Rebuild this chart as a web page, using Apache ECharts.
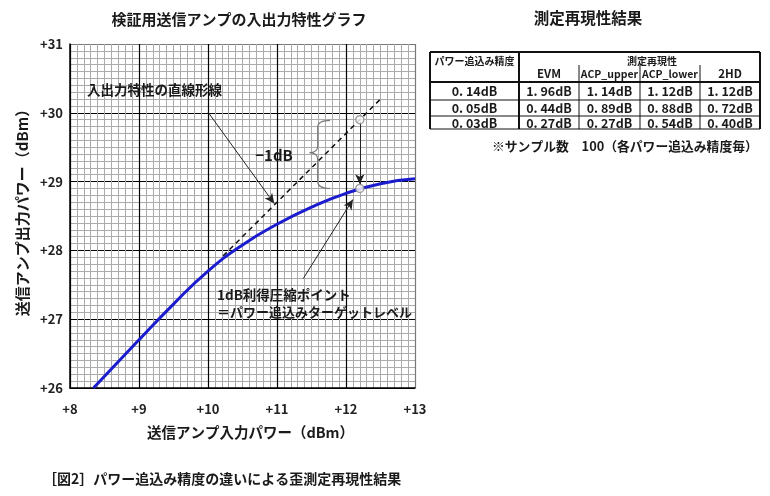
<!DOCTYPE html>
<html>
<head>
<meta charset="utf-8">
<script src="https://cdn.jsdelivr.net/npm/echarts@6/dist/echarts.min.js"></script>
<style>
html,body{margin:0;padding:0;background:#fff;}
#main{width:770px;height:496px;}
</style>
</head>
<body>
<div id="main"></div>
<script>
// ---- chart data ----
const inputPower  = [8.34, 9.0, 9.5, 10.0, 10.5, 11.0, 11.5, 12.0, 12.5, 13.0];
const outputPower = [26.0, 26.7, 27.22, 27.7, 28.08, 28.38, 28.63, 28.83, 28.97, 29.04];
const linearX = [10.22, 12.52];
const linearY = [27.92, 30.22];
const pointX = [12.2, 12.2];
const pointY = [29.9, 28.9];
const xTicks = [8, 9, 10, 11, 12, 13];
const yTicks = [26, 27, 28, 29, 30, 31];
// annotation arrows (data coordinates): [fromX, fromY, toX, toY]
const arrowLinear = [10.0, 30.01, 10.96, 28.68];
const arrowPoint  = [11.38, 27.59, 12.10, 28.74];
const arrowDrop   = [12.2, 29.86, 12.2, 28.96];
// brace (data coordinates): [endX, spineX, tipX], [topY, midY, bottomY]
const braceX = [11.77, 11.59, 11.47];
const braceY = [29.89, 29.42, 28.9];

// ---- table data ----
const tableRowLabels = ['0. 14dB', '0. 05dB', '0. 03dB'];
const tableColumns = ['EVM', 'ACP_upper', 'ACP_lower', '2HD'];
const valEVM      = ['1. 96dB', '0. 44dB', '0. 27dB'];
const valACPupper = ['1. 14dB', '0. 89dB', '0. 27dB'];
const valACPlower = ['1. 12dB', '0. 88dB', '0. 54dB'];
const val2HD      = ['1. 12dB', '0. 72dB', '0. 40dB'];

const FONT = '"Noto Sans CJK JP", "Noto Sans", sans-serif';
const chart = echarts.init(document.getElementById('main'), null, {renderer: 'canvas'});

function txt(text, x, y, size, align, extra) {
  return Object.assign({
    type: 'text', x: x, y: y, z: 100,
    style: {text: text, font: 'bold ' + size + 'px ' + FONT, fill: '#1a1a1a',
            align: align || 'left', verticalAlign: 'middle'}
  }, extra || {});
}
function ln(x1, y1, x2, y2, w, c) {
  return {type: 'line', z: 100, shape: {x1: x1, y1: y1, x2: x2, y2: y2},
          style: {stroke: c || '#111', lineWidth: w}};
}

// table layout
const colX = [430, 519, 579, 640, 700, 760];
const rowTop = 52, subTop = 65, headBottom = 82;
const rowLines = [100, 116, 129];
const rowCenters = [91, 108, 123];
const columnsValues = [valEVM, valACPupper, valACPlower, val2HD];

const graphics = [];
graphics.push(txt('検証用送信アンプの入出力特性グラフ', 239, 19, 15, 'center'));
graphics.push(txt('測定再現性結果', 588, 18, 15.5, 'center'));
graphics.push(txt('入出力特性の直線形線', 87, 90, 13.5, 'left'));
graphics.push(txt('−1dB', 274, 155, 15, 'center'));
graphics.push(txt('1dB利得圧縮ポイント', 217, 295, 13.5, 'left'));
graphics.push(txt('＝パワー追込みターゲットレベル', 217, 312, 13, 'left'));
graphics.push(txt('※サンプル数　100（各パワー追込み精度毎）', 492, 146, 12.8, 'left'));
graphics.push(txt('［図2］パワー追込み精度の違いによる歪測定再現性結果', 43, 479, 14, 'left'));

// table frame
graphics.push(ln(colX[0], rowTop, colX[5], rowTop, 2));
graphics.push(ln(colX[0], rowTop, colX[0], rowLines[2], 2));
graphics.push(ln(colX[5], rowTop, colX[5], rowLines[2], 2));
graphics.push(ln(colX[1], rowTop, colX[1], rowLines[2], 2));
for (let i = 2; i < 5; i++) graphics.push(ln(colX[i], subTop, colX[i], rowLines[2], 1));
graphics.push(ln(colX[0], headBottom, colX[5], headBottom, 2));
rowLines.forEach(function (y) { graphics.push(ln(colX[0], y, colX[5], y, 1)); });
graphics.push(txt('パワー追込み精度', (colX[0] + colX[1]) / 2, 61, 10, 'center'));
graphics.push(txt('測定再現性', 652, 61, 10, 'center'));
tableColumns.forEach(function (c, i) {
  graphics.push(txt(c, (colX[i + 1] + colX[i + 2]) / 2, 74, c.length > 3 ? 10.5 : 11.5, 'center'));
});
tableRowLabels.forEach(function (r, j) {
  graphics.push(txt(r, (colX[0] + colX[1]) / 2, rowCenters[j], 12.5, 'center', {}));
  columnsValues.forEach(function (vals, i) {
    graphics.push(txt(vals[j], (colX[i + 1] + colX[i + 2]) / 2, rowCenters[j], 12.5, 'center'));
  });
});

function arrowMark(a) {
  return [{coord: [a[0], a[1]], symbol: 'none'}, {coord: [a[2], a[3]], symbol: 'arrow'}];
}

const option = {
  backgroundColor: '#fff',
  animation: false,
  textStyle: {fontFamily: FONT},
  grid: {left: 70, right: 355, top: 44, bottom: 108, containLabel: false},
  xAxis: {
    type: 'value', min: xTicks[0], max: xTicks[xTicks.length - 1], interval: 1,
    name: '送信アンプ入力パワー（dBm）', nameLocation: 'middle', nameGap: 37,
    nameTextStyle: {fontSize: 14.5, fontWeight: 'bold', color: '#1a1a1a', fontFamily: FONT,
      padding: [0, 0, 0, 16]},
    axisLine: {show: true, onZero: false, lineStyle: {color: '#000', width: 1.5}},
    axisTick: {show: false},
    minorTick: {show: false, splitNumber: 10},
    minorSplitLine: {show: true, lineStyle: {color: '#ababab', width: 1}},
    splitLine: {show: true, showMinLine: true, showMaxLine: true,
      lineStyle: {color: ['#000', '#000', '#000', '#000', '#000', '#777'], width: 1.2}},
    axisLabel: {formatter: function (v) { return '+' + v; }, fontSize: 13, fontWeight: 'bold',
      color: '#222', margin: 15, fontFamily: FONT}
  },
  yAxis: {
    type: 'value', min: yTicks[0], max: yTicks[yTicks.length - 1], interval: 1,
    name: '送信アンプ出力パワー（dBm）', nameLocation: 'middle', nameGap: 40,
    nameTextStyle: {fontSize: 15, fontWeight: 'bold', color: '#1a1a1a', fontFamily: FONT,
      padding: [0, 0, 0, 14]},
    axisLine: {show: true, onZero: false, lineStyle: {color: '#000', width: 1.5}},
    axisTick: {show: false},
    minorTick: {show: false, splitNumber: 10},
    minorSplitLine: {show: true, lineStyle: {color: '#ababab', width: 1}},
    splitLine: {show: true, showMinLine: true, showMaxLine: true,
      lineStyle: {color: ['#000', '#000', '#000', '#000', '#000', '#777'], width: 1.2}},
    axisLabel: {formatter: function (v) { return '+' + v; }, fontSize: 13, fontWeight: 'bold',
      color: '#222', margin: 7, fontFamily: FONT}
  },
  series: [
    {
      type: 'line', name: 'linear', data: linearX.map(function (x, i) { return [x, linearY[i]]; }),
      showSymbol: false, lineStyle: {color: '#111', width: 1.5, type: [5, 4]}, z: 3,
      markLine: {
        silent: true, symbolSize: [7, 10],
        lineStyle: {color: '#222', width: 1, type: 'solid'},
        label: {show: false},
        data: [arrowMark(arrowLinear), arrowMark(arrowPoint), arrowMark(arrowDrop)]
      }
    },
    {
      type: 'line', name: 'amp', data: inputPower.map(function (x, i) { return [x, outputPower[i]]; }),
      smooth: 0.5, showSymbol: false, lineStyle: {color: '#1c1ccf', width: 3}, z: 4
    },
    {
      type: 'custom', name: 'brace', data: [[braceX[1], braceY[1]]], z: 3,
      renderItem: function (params, api) {
        const top = api.coord([braceX[1], braceY[0]]);
        const bot = api.coord([braceX[1], braceY[2]]);
        const mid = api.coord([braceX[1], braceY[1]]);
        const endX = api.coord([braceX[0], braceY[0]])[0];
        const tipX = api.coord([braceX[2], braceY[1]])[0];
        const sx = top[0], r = 7;
        const d = 'M' + endX + ' ' + top[1] +
          ' Q' + sx + ' ' + top[1] + ' ' + sx + ' ' + (top[1] + r) +
          ' L' + sx + ' ' + (mid[1] - r) +
          ' Q' + sx + ' ' + mid[1] + ' ' + tipX + ' ' + mid[1] +
          ' Q' + sx + ' ' + mid[1] + ' ' + sx + ' ' + (mid[1] + r) +
          ' L' + sx + ' ' + (bot[1] - r) +
          ' Q' + sx + ' ' + bot[1] + ' ' + endX + ' ' + bot[1];
        return {type: 'path', shape: {pathData: d},
                style: {stroke: '#777', fill: 'none', lineWidth: 1.2}};
      }
    },
    {
      type: 'scatter', name: 'points', data: pointX.map(function (x, i) { return [x, pointY[i]]; }),
      symbol: 'circle', symbolSize: 8, z: 6,
      itemStyle: {color: '#fff', borderColor: '#888', borderWidth: 1.5}
    }
  ],
  graphic: graphics
};
chart.setOption(option);
</script>
</body>
</html>
